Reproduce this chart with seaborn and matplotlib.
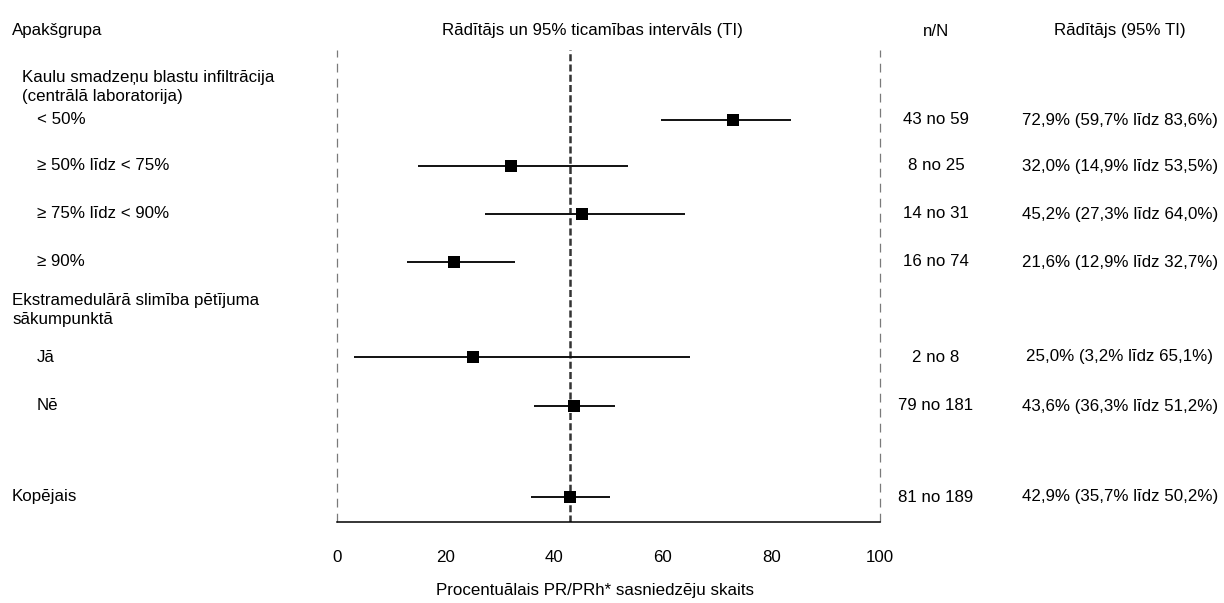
import pandas as pd
import seaborn as sns
import matplotlib.pyplot as plt
import matplotlib.transforms as mtransforms

# Subgroup data (rate and 95% CI in %)
labels = ['< 50%', '≥ 50% līdz < 75%', '≥ 75% līdz < 90%', '≥ 90%', 'Jā', 'Nē', 'Kopējais']
n_resp = [43, 8, 14, 16, 2, 79, 81]
n_total = [59, 25, 31, 74, 8, 181, 189]
rate = [72.9, 32.0, 45.2, 21.6, 25.0, 43.6, 42.9]
ci_low = [59.7, 14.9, 27.3, 12.9, 3.2, 36.3, 35.7]
ci_high = [83.6, 53.5, 64.0, 32.7, 65.1, 51.2, 50.2]
group_headers = ['Kaulu smadzeņu blastu infiltrācija\n(centrālā laboratorija)',
                 'Ekstramedulārā slimība pētījuma\nsākumpunktā']
ticks = [0, 20, 40, 60, 80, 100]

# Layout: vertical slots (pixel rows from top), indents
row_y = [120, 166, 214, 262, 357, 406, 497]
row_x = [37, 37, 37, 37, 37, 37, 12]
header_y = [87, 310]
header_x = [22, 12]

df = pd.DataFrame({'label': labels, 'n': n_resp, 'N': n_total, 'rate': rate,
                   'lo': ci_low, 'hi': ci_high, 'y': row_y})

sns.set_style('white')
plt.rcParams['font.family'] = ['Liberation Sans', 'DejaVu Sans']
plt.rcParams['text.color'] = 'black'
plt.rcParams['xtick.color'] = 'black'
plt.rcParams['axes.labelcolor'] = 'black'
fs = 12.2

W, H = 1224, 603
fig = plt.figure(figsize=(W / 100, H / 100), dpi=100)
ax = fig.add_axes([337 / W, (H - 522) / H, 543 / W, 472 / H])
ax.set_xlim(0, 100)
ax.set_ylim(522, 50)

# reference lines
ax.axvline(0, color='#7a7a7a', lw=0.9, dashes=(7, 5), zorder=1, clip_on=False)
ax.axvline(100, color='#7a7a7a', lw=0.9, dashes=(7, 5), zorder=1, clip_on=False)
ax.axvline(rate[-1], color='#333333', lw=1.8, dashes=(2.8, 1.3), zorder=1)

# CI lines and point estimates
ax.hlines(df['y'], df['lo'], df['hi'], color='#111111', lw=1.4, zorder=2)
sns.scatterplot(data=df, x='rate', y='y', marker='s', color='black', s=75,
                linewidth=0, ax=ax, zorder=3, legend=False)

for s in ['top', 'left', 'right']:
    ax.spines[s].set_visible(False)
ax.spines['bottom'].set_color('black')
ax.spines['bottom'].set_linewidth(1.1)
ax.set_xticks(ticks)
ax.set_xticklabels([str(t) for t in ticks], fontsize=fs)
ax.set_yticks([])
ax.tick_params(axis='x', length=0, pad=20)
ax.set_ylabel('')
ax.set_xlabel('Procentuālais PR/PRh* sasniedzēju skaits', fontsize=fs)
ax.xaxis.set_label_coords((595 - 337) / 543, -(583 - 522) / 472)

tr = mtransforms.blended_transform_factory(fig.transFigure, ax.transData)

# column headers
ax.text(12 / W, 31, 'Apakšgrupa', transform=tr, fontsize=fs, va='center', ha='left', clip_on=False)
ax.text(592 / W, 31, 'Rādītājs un 95% ticamības intervāls (TI)', transform=tr, fontsize=fs,
        va='center', ha='center', clip_on=False)
ax.text(936 / W, 31, 'n/N', transform=tr, fontsize=fs, va='center', ha='center', clip_on=False)
ax.text(1120 / W, 31, 'Rādītājs (95% TI)', transform=tr, fontsize=fs, va='center', ha='center',
        clip_on=False)

for txt, x, y in zip(group_headers, header_x, header_y):
    ax.text(x / W, y, txt, transform=tr, fontsize=fs, va='center', ha='left',
            linespacing=1.3, clip_on=False)

for i, r in df.iterrows():
    ax.text(row_x[i] / W, r['y'], r['label'], transform=tr, fontsize=fs, va='center',
            ha='left', clip_on=False)
    ax.text(936 / W, r['y'], f"{int(r['n'])} no {int(r['N'])}", transform=tr, fontsize=fs,
            va='center', ha='center', clip_on=False)
    est = f"{r['rate']:.1f}% ({r['lo']:.1f}% līdz {r['hi']:.1f}%)".replace('.', ',')
    ax.text(1120 / W, r['y'], est, transform=tr, fontsize=fs, va='center', ha='center',
            clip_on=False)

fig.savefig('out.png', dpi=100)
